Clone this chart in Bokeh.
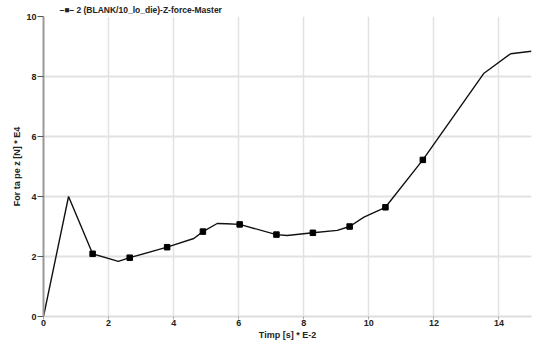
from bokeh.plotting import figure
from bokeh.models import Range1d, FixedTicker
from bokeh.embed import file_html
from bokeh.resources import INLINE

# data (time * E-2 s, force * E4 N)
t = [0.0, 0.77, 1.51, 2.30, 2.65, 3.80, 4.62, 4.90, 5.34, 5.62, 6.03, 7.16, 7.49,
     8.28, 9.03, 9.41, 9.85, 10.51, 11.66, 13.54, 14.36, 15.0]
f = [0.0, 4.0, 2.09, 1.84, 1.96, 2.31, 2.60, 2.83, 3.10, 3.09, 3.07, 2.73, 2.70,
     2.79, 2.87, 3.00, 3.31, 3.64, 5.22, 8.11, 8.76, 8.84]
mark_t = [1.51, 2.65, 3.80, 4.90, 6.03, 7.16, 8.28, 9.41, 10.51, 11.66]
mark_f = [2.09, 1.96, 2.31, 2.83, 3.07, 2.73, 2.79, 3.00, 3.64, 5.22]
x_ticks = [0, 2, 4, 6, 8, 10, 12, 14]
y_ticks = [0, 2, 4, 6, 8, 10]
series_name = "2 (BLANK/10_lo_die)-Z-force-Master"

FONT = "Liberation Sans"

p = figure(width=533, height=344, output_backend="svg", toolbar_location=None,
           x_range=Range1d(0, 15), y_range=Range1d(0, 10),
           min_border_left=43, min_border_right=2, min_border_top=16,
           min_border_bottom=28)
p.outline_line_color = None
p.background_fill_color = "white"

ln = p.line(t, f, line_color="#111111", line_width=1.4)
sc = p.scatter(mark_t, mark_f, marker="square", size=5.5, fill_color="#000000",
               line_color="#000000")

# series key above the frame
p.title.text = "\u2013\u25a0\u2013 " + series_name
p.title.align = "left"
p.title.offset = 16
p.title.standoff = 3
p.title.text_font = FONT
p.title.text_font_style = "bold"
p.title.text_font_size = "8.5px"
p.title.text_color = "#222222"

for ax in (p.xaxis[0], p.yaxis[0]):
    ax.major_label_text_font = FONT
    ax.major_label_text_font_style = "bold"
    ax.major_label_text_font_size = "9px"
    ax.major_label_text_color = "#222222"
    ax.axis_label_text_font = FONT
    ax.axis_label_text_font_style = "bold"
    ax.axis_label_text_font_size = "9px"
    ax.axis_label_text_color = "#222222"
    ax.minor_tick_line_color = None

p.xaxis.ticker = FixedTicker(ticks=x_ticks)
p.yaxis.ticker = FixedTicker(ticks=y_ticks)
p.xaxis.axis_label = "Timp [s] * E-2"
p.yaxis.axis_label = "For ta pe z [N] * E4"
p.xaxis.axis_line_color = "#dddddd"
p.xaxis.axis_line_width = 2
p.xaxis.major_tick_line_color = "#aaaaaa"
p.xaxis.major_tick_in = 0
p.xaxis.major_tick_out = 3
p.xaxis.major_label_standoff = 0
p.xaxis.axis_label_standoff = 1
p.yaxis.axis_line_color = "#999999"
p.yaxis.axis_line_width = 2
p.yaxis.major_tick_line_color = "#555555"
p.yaxis.major_tick_in = 0
p.yaxis.major_tick_out = 6
p.yaxis.major_label_standoff = 1
p.yaxis.axis_label_standoff = 1

p.xgrid.grid_line_color = "#e2e2e2"
p.xgrid.grid_line_width = 1.5
p.ygrid.grid_line_color = "#e2e2e2"
p.ygrid.grid_line_width = 2

open("out.html", "w").write(file_html(p, INLINE))
